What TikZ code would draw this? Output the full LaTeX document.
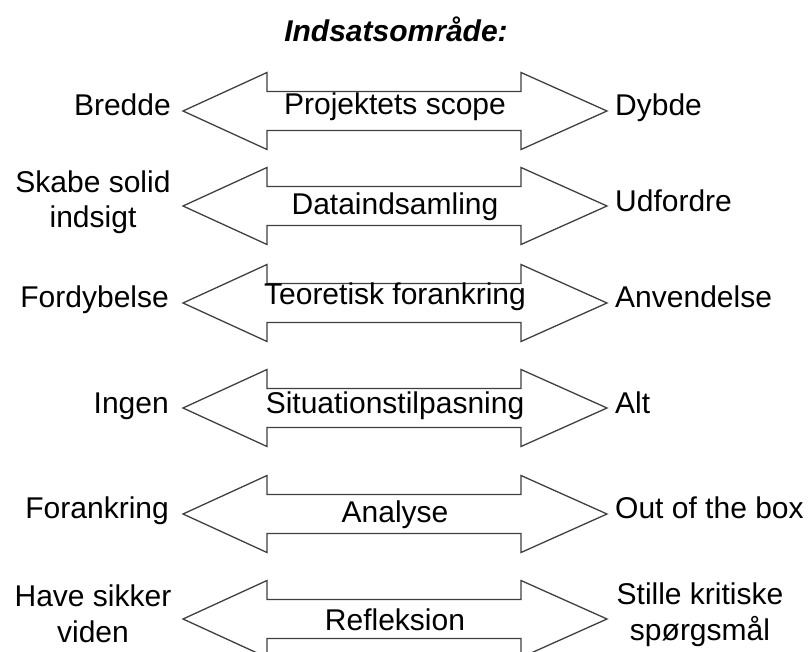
\documentclass[tikz,border=0pt]{standalone}
\usepackage{fontspec}
\setmainfont{Liberation Sans}
\begin{document}
\begin{tikzpicture}[x=1pt,y=-1pt,
  bigarrow/.style={draw=black!75, line width=1.3pt, fill=white, line join=miter},
  lbl/.style={font=\fontsize{30}{35.5}\selectfont, inner sep=0pt, align=center},
  ttl/.style={font=\fontsize{30}{35}\selectfont\bfseries\itshape, inner sep=0pt}
]
\clip (0,0) rectangle (808,652);
\fill[white] (0,0) rectangle (808,652);
\node[ttl, anchor=base] (title) at (396,42) {Indsatsområde:};
\foreach \c [count=\i] in {111,206,303,408,514,619} {
  \draw[bigarrow] (183,\c) -- (267,\c-38.5) -- (267,\c-19.5) -- (521,\c-19.5)
    -- (521,\c-38.5) -- (607,\c) -- (521,\c+38.5) -- (521,\c+19.5)
    -- (267,\c+19.5) -- (267,\c+38.5) -- cycle;
}
% centre texts
\node[lbl, anchor=base] (m1) at (395,115) {Projektets scope};
\node[lbl, anchor=base] (m2) at (395,215) {Dataindsamling};
\node[lbl, anchor=base] (m3) at (395,305) {Teoretisk forankring};
\node[lbl, anchor=base] (m4) at (395,413) {Situationstilpasning};
\node[lbl, anchor=base] (m5) at (395,522) {Analyse};
\node[lbl, anchor=base] (m6) at (395,630) {Refleksion};
% left labels
\node[lbl, anchor=base east] (l1) at (171,116) {Bredde};
\node[lbl, anchor=base] (l2) at (93,228) {Skabe solid\\indsigt};
\node[lbl, anchor=base east] (l3) at (169,307) {Fordybelse};
\node[lbl, anchor=base east] (l4) at (169,413) {Ingen};
\node[lbl, anchor=base east] (l5) at (169,518) {Forankring};
\node[lbl, anchor=base] (l6) at (93,642) {Have sikker\\viden};
% right labels
\node[lbl, anchor=base west] (r1) at (615,116) {Dybde};
\node[lbl, anchor=base west] (r2) at (615,212) {Udfordre};
\node[lbl, anchor=base west] (r3) at (615,307) {Anvendelse};
\node[lbl, anchor=base west] (r4) at (615,413) {Alt};
\node[lbl, anchor=base west] (r5) at (615,518) {Out of the box};
\node[lbl, anchor=base] (r6) at (700,640) {Stille kritiske\\spørgsmål};
\end{tikzpicture}
\end{document}
